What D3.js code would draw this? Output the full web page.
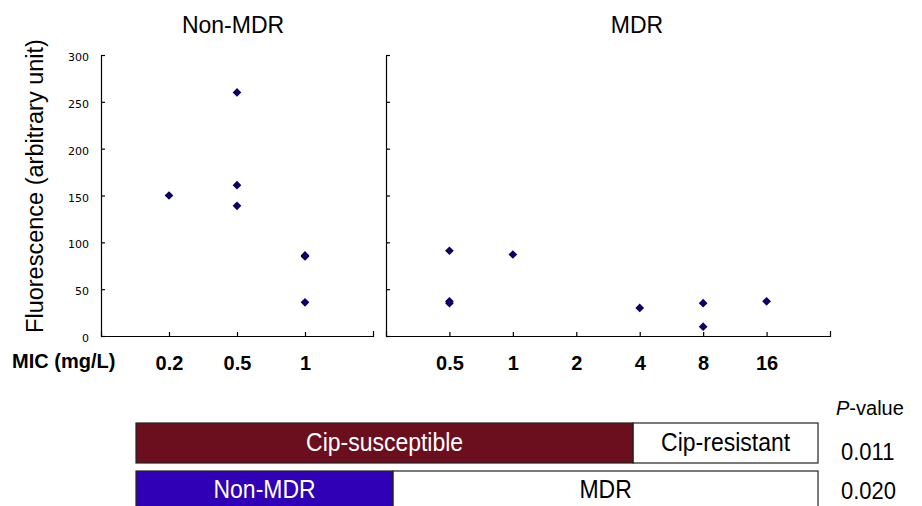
<!DOCTYPE html>
<html>
<head>
<meta charset="utf-8">
<script src="https://cdn.jsdelivr.net/npm/d3@7"></script>
<style>
  html, body { margin: 0; padding: 0; background: #fff; }
  svg { display: block; }
</style>
</head>
<body>
<svg id="chart" width="922" height="506"></svg>
<script>
// ---- data ----
const yTicks = [0, 50, 100, 150, 200, 250, 300];
const nonMdrCategories = ["0.2", "0.5", "1"];
const nonMdrPoints = [
  { mic: "0.2", value: 150 },
  { mic: "0.5", value: 260 },
  { mic: "0.5", value: 161 },
  { mic: "0.5", value: 139 },
  { mic: "1", value: 86 },
  { mic: "1", value: 85 },
  { mic: "1", value: 36 }
];
const mdrCategories = ["0.5", "1", "2", "4", "8", "16"];
const mdrPoints = [
  { mic: "0.5", value: 91 },
  { mic: "0.5", value: 37 },
  { mic: "0.5", value: 35 },
  { mic: "1", value: 87 },
  { mic: "4", value: 30 },
  { mic: "8", value: 35 },
  { mic: "8", value: 10 },
  { mic: "16", value: 37 }
];
const panelTitles = ["Non-MDR", "MDR"];
const yAxisTitle = "Fluorescence (arbitrary unit)";
const xAxisTitle = "MIC (mg/L)";
// bottom classification bars: share of the bar width
const cipSegments = [
  { label: "Cip-susceptible", share: 0.729 },
  { label: "Cip-resistant", share: 0.271 }
];
const mdrSegments = [
  { label: "Non-MDR", share: 0.377 },
  { label: "MDR", share: 0.623 }
];
const pValueTitle = "P-value";
const pValues = ["0.011", "0.020"];

// ---- drawing ----
const svg = d3.select("#chart");
const SANS = "'Liberation Sans', Arial, sans-serif";
const markerColor = "#0b0063";

const y = d3.scaleLinear().domain([0, 300]).range([336, 55]);
const xLeft = d3.scalePoint().domain(nonMdrCategories).range([101, 373]).padding(1);
const xRight = d3.scalePoint().domain(mdrCategories).range([386, 830]).padding(1);

function drawPanel(x, points, showYLabels, title, titleX) {
  const g = svg.append("g");
  const x0 = x.range()[0];

  // y axis
  const yAxis = d3.axisLeft(y).tickValues(yTicks)
    .tickSizeInner(-4).tickSizeOuter(0).tickPadding(12);
  if (!showYLabels) yAxis.tickFormat(() => "");
  const ya = g.append("g").attr("transform", `translate(${x0},0)`).call(yAxis);
  ya.selectAll("path, line").attr("stroke", "#000").attr("stroke-width", 1.2);
  ya.selectAll("text")
    .attr("font-family", "'DejaVu Sans', sans-serif")
    .attr("font-size", 11).attr("fill", "#000")
    .attr("dy", "0.5em");

  // x axis
  const xAxis = d3.axisBottom(x).tickSizeInner(-4).tickSizeOuter(-5).tickPadding(20);
  const xa = g.append("g").attr("transform", `translate(0,${y(0)})`).call(xAxis);
  xa.selectAll("path, line").attr("stroke", "#000").attr("stroke-width", 1.2);
  xa.selectAll("text")
    .attr("font-family", SANS).attr("font-weight", "bold")
    .attr("font-size", 20).attr("fill", "#000");

  // points
  g.selectAll("path.pt").data(points).enter().append("path")
    .attr("class", "pt")
    .attr("d", d3.symbol(d3.symbolSquare, 38)())
    .attr("transform", d => `translate(${x(d.mic)},${y(d.value)}) rotate(45)`)
    .attr("fill", markerColor);

  // title
  g.append("text")
    .attr("x", titleX).attr("y", 33)
    .attr("text-anchor", "middle")
    .attr("font-family", SANS).attr("font-size", 23).attr("fill", "#000")
    .text(title);
}

drawPanel(xLeft, nonMdrPoints, true, panelTitles[0], 233);
drawPanel(xRight, mdrPoints, false, panelTitles[1], 637);

// y-axis title
svg.append("text")
  .attr("transform", "translate(43,186) rotate(-90)")
  .attr("text-anchor", "middle")
  .attr("font-family", SANS).attr("font-size", 23.5).attr("fill", "#000")
  .text(yAxisTitle);

// x-axis title
svg.append("text")
  .attr("x", 12).attr("y", 368)
  .attr("font-family", SANS).attr("font-weight", "bold")
  .attr("font-size", 20).attr("fill", "#000")
  .text(xAxisTitle);

// ---- bottom bars ----
const barX = d3.scaleLinear().domain([0, 1]).range([136, 818]);
const rows = [
  { segs: cipSegments, top: 423, h: 40, colors: ["#6b0f1f", "#ffffff"], textColors: ["#fff", "#000"], base: 451, pBase: 460 },
  { segs: mdrSegments, top: 471, h: 40, colors: ["#2f00b5", "#ffffff"], textColors: ["#fff", "#000"], base: 498, pBase: 499 }
];
rows.forEach((row, ri) => {
  let acc = 0;
  const segs = row.segs.map(s => { const o = { ...s, start: acc }; acc += s.share; return o; });
  const g = svg.append("g");
  g.selectAll("rect").data(segs).enter().append("rect")
    .attr("x", d => barX(d.start)).attr("y", row.top)
    .attr("width", d => barX(d.start + d.share) - barX(d.start))
    .attr("height", row.h)
    .attr("fill", (d, i) => row.colors[i])
    .attr("stroke", "#222").attr("stroke-width", 1.2);
  g.selectAll("text").data(segs).enter().append("text")
    .attr("transform", d => `translate(${(barX(d.start) + barX(d.start + d.share)) / 2},${row.base}) scale(1,1.15)`)
    .attr("text-anchor", "middle")
    .attr("font-family", SANS).attr("font-size", 23)
    .attr("fill", (d, i) => row.textColors[i])
    .text(d => d.label);
  svg.append("text")
    .attr("transform", `translate(841,${row.pBase}) scale(1,1.12)`)
    .attr("font-family", SANS).attr("font-size", 22).attr("fill", "#000")
    .text(pValues[ri]);
});

// P-value header
const ph = svg.append("text")
  .attr("x", 836).attr("y", 415)
  .attr("font-family", SANS).attr("font-size", 20).attr("fill", "#000");
ph.append("tspan").attr("font-style", "italic").text(pValueTitle.split("-")[0]);
ph.append("tspan").text("-" + pValueTitle.split("-")[1]);
</script>
</body>
</html>
